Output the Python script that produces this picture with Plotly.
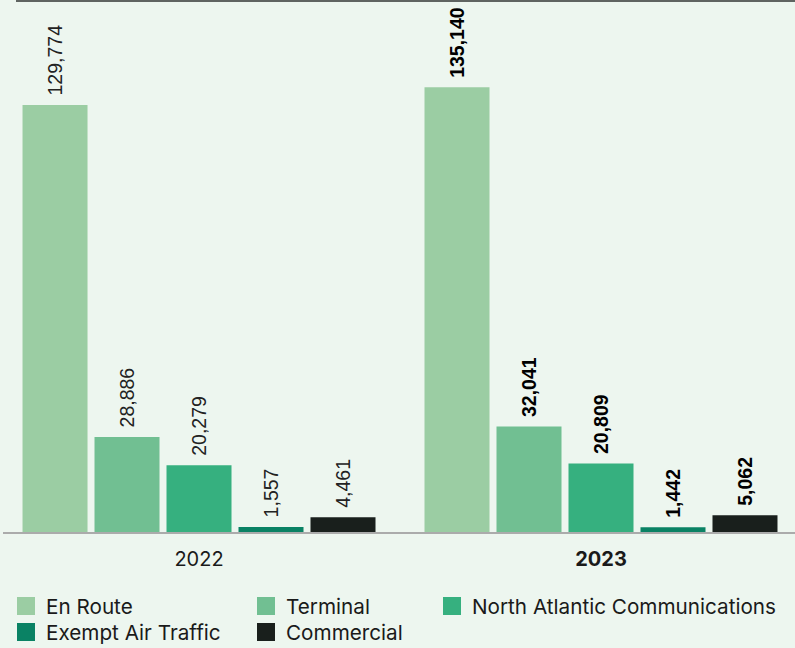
import plotly.graph_objects as go

years = ["2022", "2023"]
year_labels = ["2022", "<b>2023</b>"]
en_route = [129774, 135140]
terminal = [28886, 32041]
north_atlantic = [20279, 20809]
exempt = [1557, 1442]
commercial = [4461, 5062]

series = [
    ("En Route", en_route, "#9BCDA3", "legend"),
    ("Terminal", terminal, "#71BF92", "legend2"),
    ("North Atlantic Communications", north_atlantic, "#36B07F", "legend3"),
    ("Exempt Air Traffic", exempt, "#0A8264", "legend4"),
    ("Commercial", commercial, "#191F1C", "legend5"),
]

BG = "#EDF6EF"
LABEL_FONT = "Liberation Sans, Arial, sans-serif"
UI_FONT = "Inter, Roboto, sans-serif"

fig = go.Figure()
for name, vals, color, lg in series:
    texts = ["\u2004" + f"{v:,}" if i == 0 else "\u2004<b>" + f"{v:,}" + "</b>" for i, v in enumerate(vals)]
    fig.add_trace(go.Bar(
        x=years, y=vals, name=name,
        marker=dict(color=color, line=dict(width=0)),
        text=texts, textposition="outside", textangle=-90,
        textfont=dict(family=LABEL_FONT, size=19.5, color=["#222222", "#000000"]),
        constraintext="none",
        cliponaxis=False, showlegend=False, hoverinfo="skip",
    ))
    fig.add_trace(go.Scatter(
        x=[None], y=[None], name=name, mode="markers",
        marker=dict(symbol="square", size=16, color=color, line=dict(color=color, width=2)),
        legend=lg, showlegend=True,
    ))

W, H = 795, 648
L, R, T, B = 3, 0, 0, 116
pw = W - L - R
ph = H - T - B

def px_x(p):
    return (p - L) / pw

def px_y(p):
    return (H - B - p) / ph

legend_common = dict(
    orientation="v", yanchor="middle", xanchor="left",
    font=dict(family=UI_FONT, size=20.7, color="#1a1a1a"),
    bgcolor="rgba(0,0,0,0)", borderwidth=0,
    itemclick=False, itemdoubleclick=False,
)

fig.update_layout(
    width=W, height=H,
    margin=dict(l=L, r=R, t=T, b=B, autoexpand=False),
    paper_bgcolor=BG, plot_bgcolor=BG,
    barmode="group", bargap=0.1045, bargroupgap=0.0972,
    xaxis=dict(
        type="category", range=[-0.4876, 1.4826],
        tickvals=years, ticktext=year_labels,
        showline=True, linecolor="#ABABAB", linewidth=1.5,
        showgrid=False, zeroline=False, ticks="",
        tickfont=dict(family=UI_FONT, size=20, color="#1a1a1a"),
        ticklabelstandoff=8,
    ),
    yaxis=dict(visible=False, range=[0, 161690], showgrid=False, zeroline=False),
    legend=dict(x=px_x(6), y=px_y(606), **legend_common),
    legend2=dict(x=px_x(246), y=px_y(606), **legend_common),
    legend3=dict(x=px_x(432), y=px_y(606), **legend_common),
    legend4=dict(x=px_x(6), y=px_y(632), **legend_common),
    legend5=dict(x=px_x(246), y=px_y(632), **legend_common),
    shapes=[dict(type="line", xref="paper", yref="paper",
                 x0=px_x(16), x1=1, y0=1 - 1.0 / ph, y1=1 - 1.0 / ph,
                 line=dict(color="#5F6461", width=2))],
)

fig.write_html("out.html", config={"displayModeBar": False},
               post_script="document.body.style.margin='0';")
